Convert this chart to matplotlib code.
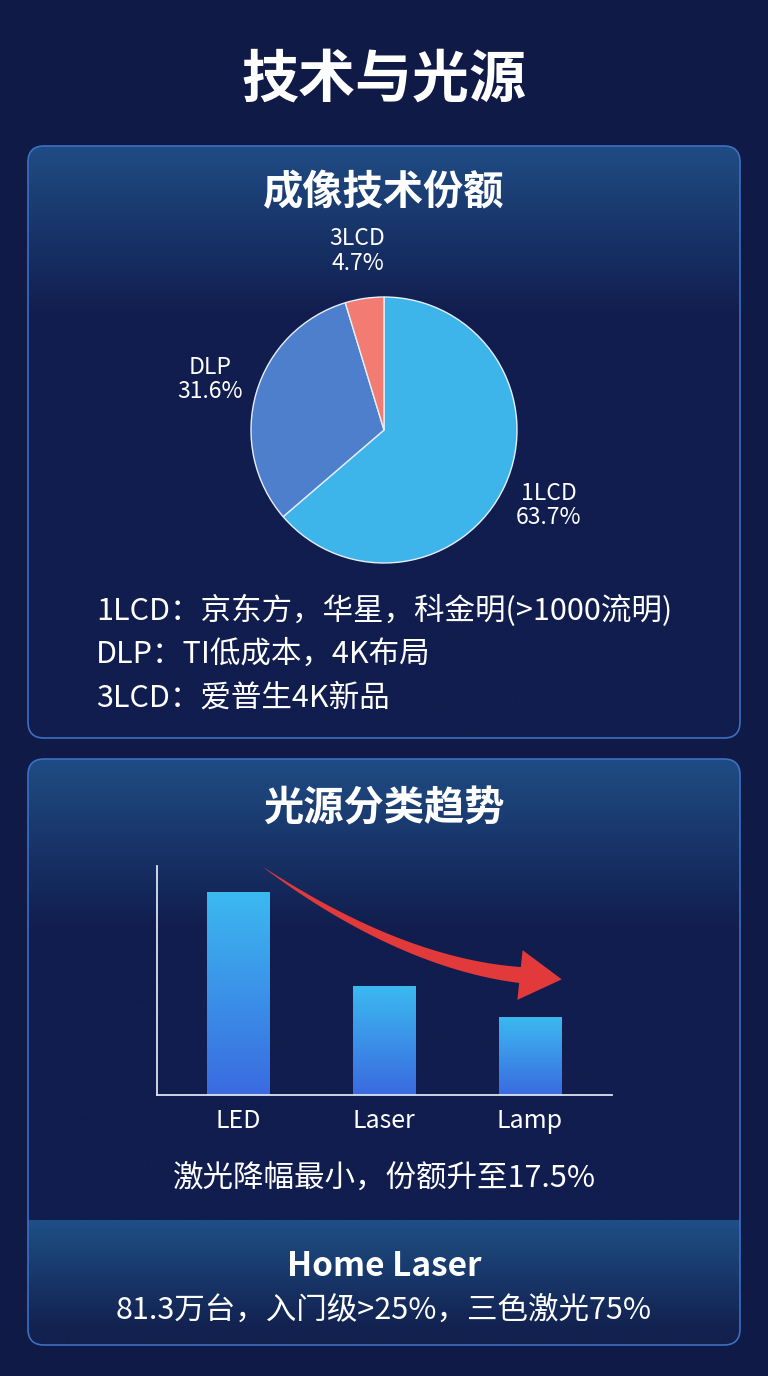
import matplotlib
matplotlib.use('Agg')
import matplotlib.pyplot as plt
import numpy as np
from matplotlib.patches import FancyBboxPatch, Polygon
from matplotlib.colors import LinearSegmentedColormap

plt.rcParams['font.family'] = ['Noto Sans CJK SC', 'DejaVu Sans']

W, H = 768, 1376
BG = '#0f1a47'
PANEL_DARK = '#111d4e'
PANEL_TOP = '#1f4c84'
BORDER = '#3d6fc2'

# data
title = '技术与光源'
pie_title = '成像技术份额'
pie_labels = ['1LCD', 'DLP', '3LCD']
pie_shares = [63.7, 31.6, 4.7]
pie_colors = ['#3db5ea', '#4e7fcc', '#f27b72']
notes = ['1LCD：京东方，华星，科金明(>1000流明)',
         'DLP：TI低成本，4K布局',
         '3LCD：爱普生4K新品']
bar_title = '光源分类趋势'
bar_cats = ['LED', 'Laser', 'Lamp']
bar_vals = [65, 35, 25]
bar_note = '激光降幅最小，份额升至17.5%'
foot_title = 'Home Laser'
foot_text = '81.3万台，入门级>25%，三色激光75%'


def grad_fill(ax, clip, x0, x1, ya, yb, c_top, c_bot, fade):
    # vertical gradient from c_top (at ya) to c_bot, reached after `fade` px
    ys = np.linspace(ya, yb, 300)
    v = np.clip((ys - ya) / fade, 0, 1)
    cmap = LinearSegmentedColormap.from_list('g', [c_top, c_bot])
    im = ax.imshow(v[:, None], cmap=cmap, vmin=0, vmax=1,
                   extent=(x0, x1, yb, ya), origin='upper', aspect='auto',
                   interpolation='bilinear', zorder=1)
    im.set_clip_path(clip)


def panel(ax, x0, y0, x1, y1):
    box = FancyBboxPatch((x0, y0), x1 - x0, y1 - y0,
                         boxstyle='round,pad=0,rounding_size=16',
                         facecolor=PANEL_DARK, edgecolor='none', zorder=0.5)
    ax.add_patch(box)
    grad_fill(ax, box, x0, x1, y0, y1, PANEL_TOP, PANEL_DARK, 170)
    edge = FancyBboxPatch((x0, y0), x1 - x0, y1 - y0,
                          boxstyle='round,pad=0,rounding_size=16',
                          facecolor='none', edgecolor=BORDER, linewidth=1.2, zorder=3)
    ax.add_patch(edge)
    return box


fig = plt.figure(figsize=(W / 100, H / 100), dpi=100, facecolor=BG)
bg = fig.add_axes([0, 0, 1, 1])
bg.set_facecolor(BG)

p1 = panel(bg, 28, 146, 740, 738)
p2 = panel(bg, 28, 759, 740, 1345)
# lighter footer band inside panel 2
grad_fill(bg, p2, 28, 740, 1220, 1345, '#1e4f86', '#12214f', 110)

bg.set_xlim(0, W)
bg.set_ylim(H, 0)
bg.axis('off')

bg.text(384, 80, title, color='white', fontsize=41, fontweight='bold',
        ha='center', va='center', zorder=5)
bg.text(384, 193, pie_title, color='white', fontsize=29, fontweight='bold',
        ha='center', va='center', zorder=5)
for i, line in enumerate(notes):
    bg.text(96, 611 + i * 43.5, line, color='white', fontsize=22,
            ha='left', va='center', zorder=5)
bg.text(384, 809, bar_title, color='white', fontsize=29, fontweight='bold',
        ha='center', va='center', zorder=5)
bg.text(384, 1178, bar_note, color='white', fontsize=22,
        ha='center', va='center', zorder=5)
bg.text(384, 1266, foot_title, color='white', fontsize=24, fontweight='bold',
        ha='center', va='center', zorder=5)
bg.text(384, 1310, foot_text, color='white', fontsize=22,
        ha='center', va='center', zorder=5)

# red trend arrow (tapered bezier + head)
P = np.array([[263, 867], [353, 930], [440, 967], [520, 975]], dtype=float)
t = np.linspace(0, 1, 80)[:, None]
curve = ((1 - t) ** 3) * P[0] + 3 * ((1 - t) ** 2) * t * P[1] + 3 * (1 - t) * t ** 2 * P[2] + t ** 3 * P[3]
d = np.gradient(curve, axis=0)
d /= np.linalg.norm(d, axis=1)[:, None]
nrm = np.column_stack([-d[:, 1], d[:, 0]])
half = 8.0 * t[:, 0] ** 0.8
upper = curve + nrm * half[:, None]
lower = curve - nrm * half[:, None]
tip_dir = d[-1]
tip_n = nrm[-1]
tip = P[3] + tip_dir * 42
head = [P[3] + tip_n * 25, tip, P[3] - tip_n * 25]
pts = np.vstack([upper, head, lower[::-1]])
bg.add_patch(Polygon(pts, closed=True, facecolor='#e23a3a', edgecolor='none', zorder=4))

# pie chart
r = 133
half_w = 1.6 * r
ax_p = fig.add_axes([(384 - half_w) / W, 1 - (430 + half_w) / H, 2 * half_w / W, 2 * half_w / H])
wedges, texts = ax_p.pie(pie_shares,
                         labels=[f'{l}\n{s}%' for l, s in zip(pie_labels, pie_shares)],
                         colors=pie_colors, startangle=90, counterclock=False,
                         labeldistance=1.36,
                         wedgeprops=dict(edgecolor='#e6eef8', linewidth=1),
                         textprops=dict(color='white', fontsize=16.5))
for tx in texts:
    tx.set_ha('center')
    tx.set_va('center')
    tx.set_linespacing(1.1)
ax_p.set_xlim(-1.6, 1.6)
ax_p.set_ylim(-1.6, 1.6)
ax_p.set_aspect('equal')
ax_p.axis('off')

# bar chart
ax_b = fig.add_axes([157 / W, 1 - 1095 / H, (612 - 157) / W, (1095 - 866) / H])
ax_b.set_facecolor('none')
x = np.arange(len(bar_cats))
bars = ax_b.bar(x, bar_vals, width=0.425, color='none', edgecolor='none')
bar_cmap = LinearSegmentedColormap.from_list('b', ['#3a6be0', '#3cb9f0'])
for b in bars:
    bx, bw, bh = b.get_x(), b.get_width(), b.get_height()
    im = ax_b.imshow(np.linspace(0, 1, 100)[:, None], cmap=bar_cmap, vmin=0, vmax=1,
                     extent=(bx, bx + bw, 0, bh), origin='lower', aspect='auto',
                     interpolation='bilinear', zorder=2)
    im.set_clip_path(b)
ax_b.set_xlim(-0.555, 2.562)
ax_b.set_ylim(0, bar_vals[0] * 1.128)
ax_b.set_xticks(x)
ax_b.set_xticklabels(bar_cats, color='white', fontsize=18)
ax_b.set_yticks([])
ax_b.tick_params(axis='x', length=0, pad=9)
for s in ['top', 'right']:
    ax_b.spines[s].set_visible(False)
for s in ['left', 'bottom']:
    ax_b.spines[s].set_color('#dce4f0')
    ax_b.spines[s].set_linewidth(1.3)

fig.savefig('out.png', dpi=100, facecolor=BG)
